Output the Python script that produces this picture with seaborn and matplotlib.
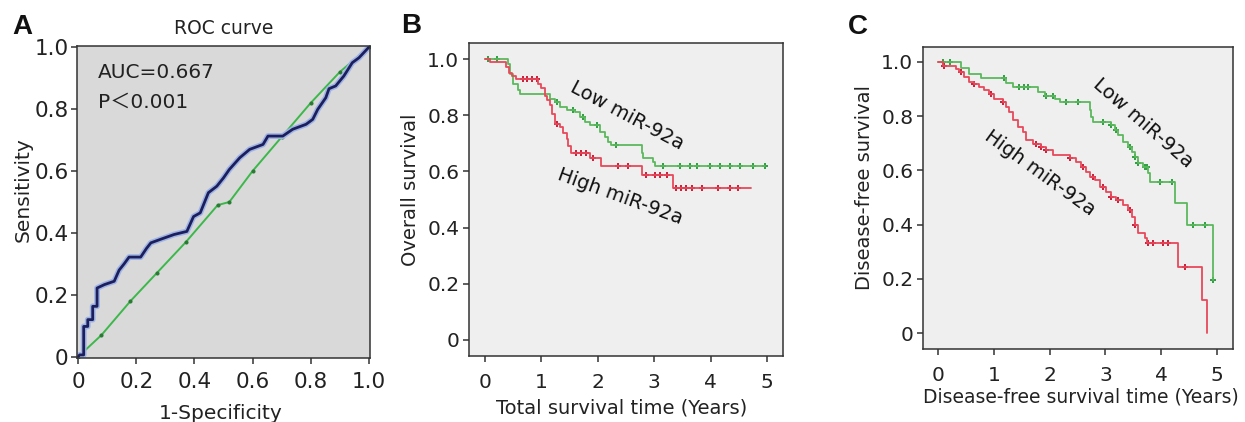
import numpy as np
import pandas as pd
import matplotlib
matplotlib.use("Agg")
import matplotlib.pyplot as plt
import seaborn as sns

# ---------------- Panel A: ROC curve ----------------
roc_fpr = [0.0, 0.005, 0.019, 0.019, 0.033, 0.033, 0.05, 0.05, 0.065, 0.065, 0.09, 0.124, 0.141, 0.158,
           0.175, 0.215, 0.235, 0.25, 0.282, 0.33, 0.374, 0.397, 0.42, 0.448, 0.477, 0.50, 0.52,
           0.556, 0.59, 0.636, 0.653, 0.704, 0.738, 0.784, 0.807, 0.824, 0.852, 0.863, 0.886,
           0.914, 0.943, 0.966, 0.994, 1.0]
roc_tpr = [0.0, 0.006, 0.006, 0.098, 0.098, 0.12, 0.12, 0.163, 0.163, 0.222, 0.233, 0.244, 0.28, 0.30,
           0.322, 0.322, 0.35, 0.368, 0.379, 0.395, 0.405, 0.453, 0.465, 0.53, 0.551, 0.578, 0.605,
           0.643, 0.67, 0.686, 0.713, 0.713, 0.735, 0.751, 0.767, 0.799, 0.837, 0.866, 0.875,
           0.907, 0.95, 0.966, 0.994, 1.0]
ref_fpr = [0.0, 0.08, 0.18, 0.27, 0.37, 0.48, 0.52, 0.60, 0.70, 0.80, 0.90, 1.0]
ref_tpr = [0.0, 0.07, 0.18, 0.27, 0.37, 0.49, 0.50, 0.60, 0.71, 0.82, 0.92, 1.0]
roc_ticks = [0, 0.2, 0.4, 0.6, 0.8, 1.0]
roc_ticklabels = ["0", "0.2", "0.4", "0.6", "0.8", "1.0"]

# ---------------- Panel B: overall survival ----------------
os_low_t = [0.0, 0.41, 0.44, 0.50, 0.59, 0.62, 1.15, 1.24, 1.33, 1.45, 1.59, 1.68, 1.77, 1.86,
            2.04, 2.13, 2.18, 2.24, 2.78, 2.80, 2.98, 3.01]
os_low_s = [1.0, 0.983, 0.948, 0.912, 0.889, 0.877, 0.859, 0.847, 0.829, 0.820, 0.812, 0.794, 0.776,
            0.764, 0.741, 0.723, 0.705, 0.693, 0.664, 0.646, 0.634, 0.618]
os_low_end = 4.96
os_low_cens = [0.06, 0.21, 1.27, 1.56, 1.74, 1.98, 2.33, 3.16, 3.45, 3.63, 3.75, 3.98, 4.16, 4.34,
               4.52, 4.75, 4.96]

os_high_t = [0.0, 0.09, 0.38, 0.43, 0.49, 0.56, 0.95, 1.00, 1.06, 1.10, 1.15, 1.19, 1.24, 1.34,
             1.39, 1.45, 1.48, 1.52, 1.86, 2.05, 2.79, 3.33]
os_high_s = [1.0, 0.988, 0.970, 0.950, 0.940, 0.928, 0.910, 0.898, 0.870, 0.853, 0.835, 0.806, 0.770,
             0.758, 0.738, 0.715, 0.690, 0.667, 0.646, 0.620, 0.588, 0.542]
os_high_end = 4.72
os_high_cens = [0.68, 0.74, 0.83, 0.92, 1.27, 1.62, 1.71, 1.80, 1.92, 2.36, 2.54, 2.86, 3.01, 3.10,
                3.22, 3.39, 3.48, 3.57, 3.66, 3.84, 4.13, 4.34, 4.49]

# ---------------- Panel C: disease-free survival ----------------
dfs_low_t = [0.0, 0.41, 0.56, 0.77, 1.22, 1.34, 1.79, 1.91, 2.09, 2.18, 2.72, 2.75, 2.78, 3.11,
             3.17, 3.23, 3.32, 3.41, 3.47, 3.53, 3.59, 3.68, 3.77, 3.80, 4.25, 4.46, 4.93]
dfs_low_s = [1.0, 0.979, 0.957, 0.939, 0.923, 0.908, 0.890, 0.874, 0.865, 0.853, 0.822, 0.798, 0.779,
             0.767, 0.748, 0.730, 0.706, 0.687, 0.669, 0.650, 0.626, 0.613, 0.589, 0.558, 0.479,
             0.399, 0.196]
dfs_low_end = 4.93
dfs_low_cens = [0.08, 0.22, 1.19, 1.46, 1.55, 1.61, 1.94, 2.06, 2.30, 2.51, 2.96, 3.11, 3.20, 3.44,
                3.53, 3.59, 3.71, 3.74, 3.98, 4.19, 4.58, 4.79, 4.93]

dfs_high_t = [0.0, 0.08, 0.32, 0.38, 0.47, 0.56, 0.65, 0.74, 0.83, 0.92, 1.01, 1.16, 1.22, 1.28,
              1.34, 1.43, 1.52, 1.58, 1.70, 1.85, 1.94, 2.06, 2.36, 2.48, 2.57, 2.66, 2.72, 2.81,
              2.90, 3.02, 3.11, 3.20, 3.32, 3.41, 3.47, 3.53, 3.59, 3.71, 3.74, 4.31, 4.73, 4.82]
dfs_high_s = [1.0, 0.984, 0.975, 0.963, 0.945, 0.926, 0.920, 0.908, 0.896, 0.883, 0.865, 0.853,
              0.834, 0.816, 0.785, 0.761, 0.742, 0.712, 0.699, 0.687, 0.675, 0.656, 0.644, 0.632,
              0.613, 0.595, 0.577, 0.564, 0.540, 0.521, 0.503, 0.491, 0.472, 0.454, 0.429, 0.399,
              0.368, 0.350, 0.331, 0.245, 0.123, 0.0]
dfs_high_end = 4.82
dfs_high_cens = [0.11, 0.41, 0.65, 0.95, 1.16, 1.76, 1.85, 1.94, 2.36, 2.60, 2.78, 2.96, 3.11,
                 3.23, 3.44, 3.53, 3.77, 3.86, 4.04, 4.13, 4.43]

km_ticks_x = [0, 1, 2, 3, 4, 5]
km_ticks_y = [0, 0.2, 0.4, 0.6, 0.8, 1.0]
km_ticklabels_y = ["0", "0.2", "0.4", "0.6", "0.8", "1.0"]

low_color = "#5cb85c"
low_cens_color = "#2e9e44"
high_color = "#e8485a"
high_cens_color = "#c81e3a"

sns.set_theme(style="white")
plt.rcParams['font.family'] = ['DejaVu Sans', 'Noto Sans CJK SC']
plt.rcParams['axes.linewidth'] = 1.1

W, H = 1245, 422
fig = plt.figure(figsize=(W / 100, H / 100), dpi=100)


def box(l, t, r, b):
    return [l / W, 1 - b / H, (r - l) / W, (b - t) / H]


def style_axes(ax, face, labelsize):
    ax.set_facecolor(face)
    for s in ax.spines.values():
        s.set_color("#333333")
        s.set_linewidth(1.1)
    ax.tick_params(axis="both", which="major", direction="out", length=4, width=1.1,
                   color="#333333", labelsize=labelsize, labelcolor="#222222",
                   bottom=True, left=True, top=False, right=False)


def km_frame(t, s, end):
    tt = list(t) + [end]
    ss = list(s) + [s[-1]]
    return pd.DataFrame({"time": tt, "surv": ss})


def cens_frame(t, s, cens):
    t = np.asarray(t)
    s = np.asarray(s)
    idx = np.searchsorted(t, np.asarray(cens), side="right") - 1
    return pd.DataFrame({"time": cens, "surv": s[idx]})


# ---------- Panel A ----------
axA = fig.add_axes(box(77, 46, 370, 358))
style_axes(axA, "#d9d9d9", 15.5)
sns.lineplot(x=ref_fpr, y=ref_tpr, ax=axA, color="#3cb84a", lw=1.4, sort=False, estimator=None,
             marker="o", markersize=2.2, markerfacecolor="#2a7a34", markeredgecolor="#2a7a34")
sns.lineplot(x=roc_fpr, y=roc_tpr, ax=axA, color="#9fb4e6", lw=4.2, sort=False, estimator=None)
sns.lineplot(x=roc_fpr, y=roc_tpr, ax=axA, color="#1c1f5c", lw=2.0, sort=False, estimator=None)
axA.set_xlim(-0.004, 1.004)
axA.set_ylim(-0.004, 1.004)
axA.set_xticks(roc_ticks)
axA.set_xticklabels(roc_ticklabels)
axA.set_yticks(roc_ticks)
axA.set_yticklabels(roc_ticklabels)
axA.tick_params(axis="x", pad=6)
axA.tick_params(axis="y", pad=2)
axA.set_xlabel("1-Specificity", fontsize=14.5, color="#222222")
axA.set_ylabel("Sensitivity", fontsize=14.5, color="#222222")
axA.xaxis.set_label_coords(0.49, -0.178)
axA.xaxis.label.set_va("center")
axA.yaxis.set_label_coords(-0.185, 0.54)
axA.yaxis.label.set_va("center")
axA.text(0.07, 0.915, "AUC=0.667", transform=axA.transAxes, fontsize=14.5, color="#222222",
         va="center", ha="left")
axA.text(0.07, 0.82, "P\uff1c0.001", transform=axA.transAxes, fontsize=14.5, color="#222222",
         va="center", ha="left")
axA.set_title("ROC curve", fontsize=13.5, color="#222222", pad=9)

# ---------- Panel B ----------
axB = fig.add_axes(box(469, 43, 783, 356))
style_axes(axB, "#efefef", 14.5)
sns.lineplot(data=km_frame(os_low_t, os_low_s, os_low_end), x="time", y="surv", ax=axB,
             color=low_color, lw=1.3, drawstyle="steps-post", estimator=None, sort=False)
sns.lineplot(data=km_frame(os_high_t, os_high_s, os_high_end), x="time", y="surv", ax=axB,
             color=high_color, lw=1.3, drawstyle="steps-post", estimator=None, sort=False)
sns.scatterplot(data=cens_frame(os_low_t, os_low_s, os_low_cens), x="time", y="surv", ax=axB,
                marker="+", s=14, color=low_cens_color, linewidth=1.4)
sns.scatterplot(data=cens_frame(os_high_t, os_high_s, os_high_cens), x="time", y="surv", ax=axB,
                marker="+", s=14, color=high_cens_color, linewidth=1.4)
axB.set_xlim(-0.28, 5.28)
axB.set_ylim(-0.057, 1.057)
axB.set_xticks(km_ticks_x)
axB.set_yticks(km_ticks_y)
axB.set_yticklabels(km_ticklabels_y)
axB.tick_params(axis="x", pad=8)
axB.tick_params(axis="y", pad=3)
axB.set_xlabel("Total survival time (Years)", fontsize=14, color="#222222")
axB.set_ylabel("Overall survival", fontsize=14, color="#222222")
axB.xaxis.set_label_coords(0.485, -0.165)
axB.xaxis.label.set_va("center")
axB.yaxis.set_label_coords(-0.185, 0.53)
axB.yaxis.label.set_va("center")
axB.text(2.52, 0.80, "Low miR-92a", fontsize=14, rotation=-28, ha="center", va="center",
         color="#111111", rotation_mode="anchor")
axB.text(2.39, 0.51, "High miR-92a", fontsize=14, rotation=-20, ha="center", va="center",
         color="#111111", rotation_mode="anchor")

# ---------- Panel C ----------
axC = fig.add_axes(box(923, 47, 1233, 349))
style_axes(axC, "#efefef", 14.5)
sns.lineplot(data=km_frame(dfs_low_t, dfs_low_s, dfs_low_end), x="time", y="surv", ax=axC,
             color=low_color, lw=1.3, drawstyle="steps-post", estimator=None, sort=False)
sns.lineplot(data=km_frame(dfs_high_t, dfs_high_s, dfs_high_end), x="time", y="surv", ax=axC,
             color=high_color, lw=1.3, drawstyle="steps-post", estimator=None, sort=False)
sns.scatterplot(data=cens_frame(dfs_low_t, dfs_low_s, dfs_low_cens), x="time", y="surv", ax=axC,
                marker="+", s=14, color=low_cens_color, linewidth=1.4)
sns.scatterplot(data=cens_frame(dfs_high_t, dfs_high_s, dfs_high_cens), x="time", y="surv", ax=axC,
                marker="+", s=14, color=high_cens_color, linewidth=1.4)
axC.set_xlim(-0.27, 5.29)
axC.set_ylim(-0.059, 1.055)
axC.set_xticks(km_ticks_x)
axC.set_yticks(km_ticks_y)
axC.set_yticklabels(km_ticklabels_y)
axC.tick_params(axis="x", pad=8)
axC.tick_params(axis="y", pad=3)
axC.set_xlabel("Disease-free survival time (Years)", fontsize=13.5, color="#222222")
axC.set_ylabel("Disease-free survival", fontsize=14, color="#222222")
axC.xaxis.set_label_coords(0.51, -0.16)
axC.xaxis.label.set_va("center")
axC.yaxis.set_label_coords(-0.19, 0.536)
axC.yaxis.label.set_va("center")
axC.text(3.67, 0.775, "Low miR-92a", fontsize=14, rotation=-41, ha="center", va="center",
         color="#111111", rotation_mode="anchor")
axC.text(1.83, 0.59, "High miR-92a", fontsize=14, rotation=-36, ha="center", va="center",
         color="#111111", rotation_mode="anchor")

# ---------- Panel letters ----------
for lbl, px, py in [("A", 22, 27), ("B", 411, 26), ("C", 858, 27)]:
    fig.text(px / W, 1 - py / H, lbl, fontsize=20, fontweight="bold", ha="center", va="center",
             family=["Liberation Sans", "DejaVu Sans"], color="#111111")

fig.savefig("out.png", dpi=100, facecolor="white")
